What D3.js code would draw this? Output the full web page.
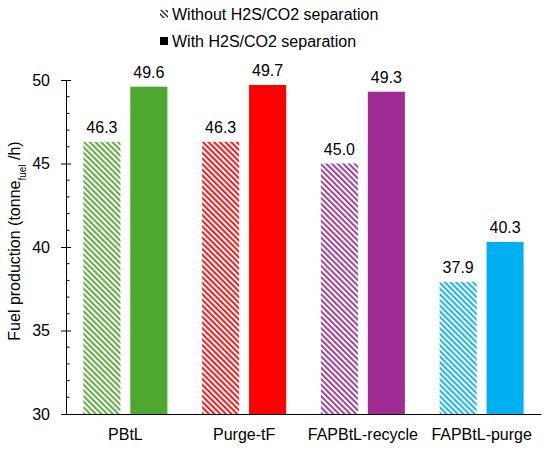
<!DOCTYPE html>
<html>
<head>
<meta charset="utf-8">
<script src="https://cdn.jsdelivr.net/npm/d3@7"></script>
<style>
  body { margin: 0; background: #fff; }
  text { font-family: "Liberation Sans", Arial, sans-serif; fill: #000; }
</style>
</head>
<body>
<svg id="chart" width="550" height="451"></svg>
<script>
// data
const categories = ["PBtL", "Purge-tF", "FAPBtL-recycle", "FAPBtL-purge"];
const series = ["Without H2S/CO2 separation", "With H2S/CO2 separation"];
const withoutSep = [46.3, 46.3, 45.0, 37.9];
const withSep = [49.6, 49.7, 49.3, 40.3];
const colors = ["#4ea72e", "#ff0000", "#a02b93", "#00b0f0"];
const yTicks = [30, 35, 40, 45, 50];

const svg = d3.select("#chart");
const margin = {left: 66, right: 9, top: 80, bottom: 37};
const width = 550 - margin.left - margin.right;
const height = 451 - margin.top - margin.bottom;

// hatch patterns, one per colour ("\" direction)
const defs = svg.append("defs");
colors.forEach((c, i) => {
  const p = defs.append("pattern")
    .attr("id", "hatch" + i)
    .attr("patternUnits", "userSpaceOnUse")
    .attr("width", 4)
    .attr("height", 4)
    .attr("patternTransform", "rotate(-45)");
  p.append("line")
    .attr("x1", 0).attr("y1", 0)
    .attr("x2", 0).attr("y2", 4)
    .attr("stroke", c)
    .attr("stroke-width", 3.6);
});
// legend icon hatch
const lp = defs.append("pattern")
  .attr("id", "hatchLegend")
  .attr("patternUnits", "userSpaceOnUse")
  .attr("width", 3.5).attr("height", 3.5)
  .attr("patternTransform", "rotate(-45)");
lp.append("line").attr("x1", 0).attr("y1", 0).attr("x2", 0).attr("y2", 3.5)
  .attr("stroke", "#000").attr("stroke-width", 2.4);

const g = svg.append("g").attr("transform", `translate(${margin.left},${margin.top})`);

const x0 = d3.scaleBand().domain(categories).range([0, width]);
const x1 = d3.scaleBand().domain([0, 1]).range([0, x0.bandwidth()])
  .paddingInner(0.21).paddingOuter(0.37);
const y = d3.scaleLinear().domain([30, 50]).range([height, 0]);

const rows = categories.map((c, i) => ({cat: c, i: i, vals: [withoutSep[i], withSep[i]]}));

const grp = g.selectAll(".grp").data(rows).enter().append("g")
  .attr("transform", d => `translate(${x0(d.cat)},0)`);

grp.selectAll("rect")
  .data(d => d.vals.map((v, k) => ({v: v, k: k, i: d.i})))
  .enter().append("rect")
  .attr("x", d => x1(d.k))
  .attr("width", x1.bandwidth())
  .attr("y", d => y(d.v))
  .attr("height", d => y(30) - y(d.v))
  .attr("fill", d => d.k === 0 ? `url(#hatch${d.i})` : colors[d.i]);

grp.selectAll(".lbl")
  .data(d => d.vals.map((v, k) => ({v: v, k: k})))
  .enter().append("text")
  .attr("class", "lbl")
  .attr("x", d => x1(d.k) + x1.bandwidth() / 2)
  .attr("y", d => y(d.v) - 9)
  .attr("text-anchor", "middle")
  .style("font-size", "16px")
  .text(d => d.v.toFixed(1));

// y axis with minor ticks
const yAxis = g.append("g").call(d3.axisLeft(y).tickValues(yTicks).tickSize(5).tickPadding(5));
yAxis.select(".domain").attr("stroke", "#000");
yAxis.selectAll(".tick line").attr("x2", 5).attr("x1", -5);
yAxis.selectAll(".tick text").style("font-size", "16px").attr("x", -16);
g.append("g").selectAll("line")
  .data(d3.range(30, 51).filter(v => v % 5 !== 0))
  .enter().append("line")
  .attr("x1", 0).attr("x2", 3.5)
  .attr("y1", d => y(d)).attr("y2", d => y(d))
  .attr("stroke", "#000");

// x axis
const xAxis = g.append("g").attr("transform", `translate(0,${height})`)
  .call(d3.axisBottom(x0).tickSize(0).tickPadding(15));
xAxis.select(".domain").attr("stroke", "#000");
xAxis.selectAll(".tick text").style("font-size", "16px");

// y title
const yt = svg.append("text")
  .attr("transform", `translate(20,${margin.top + height / 2 - 6}) rotate(-90)`)
  .attr("text-anchor", "middle")
  .style("font-size", "16px");
yt.append("tspan").text("Fuel production (tonne");
yt.append("tspan").attr("baseline-shift", "sub").style("font-size", "10px").text("fuel");
yt.append("tspan").text(" /h)");

// legend
const leg = svg.append("g").attr("transform", "translate(160,0)");
leg.append("rect").attr("x", 0).attr("y", 10).attr("width", 8).attr("height", 8)
  .attr("fill", "url(#hatchLegend)");
leg.append("rect").attr("x", 0).attr("y", 37).attr("width", 8).attr("height", 8)
  .attr("fill", "#000");
leg.selectAll(".lt").data(series).enter().append("text")
  .attr("x", 12)
  .attr("y", (d, i) => 20 + i * 27)
  .style("font-size", "16px")
  .text(d => d);
</script>
</body>
</html>
